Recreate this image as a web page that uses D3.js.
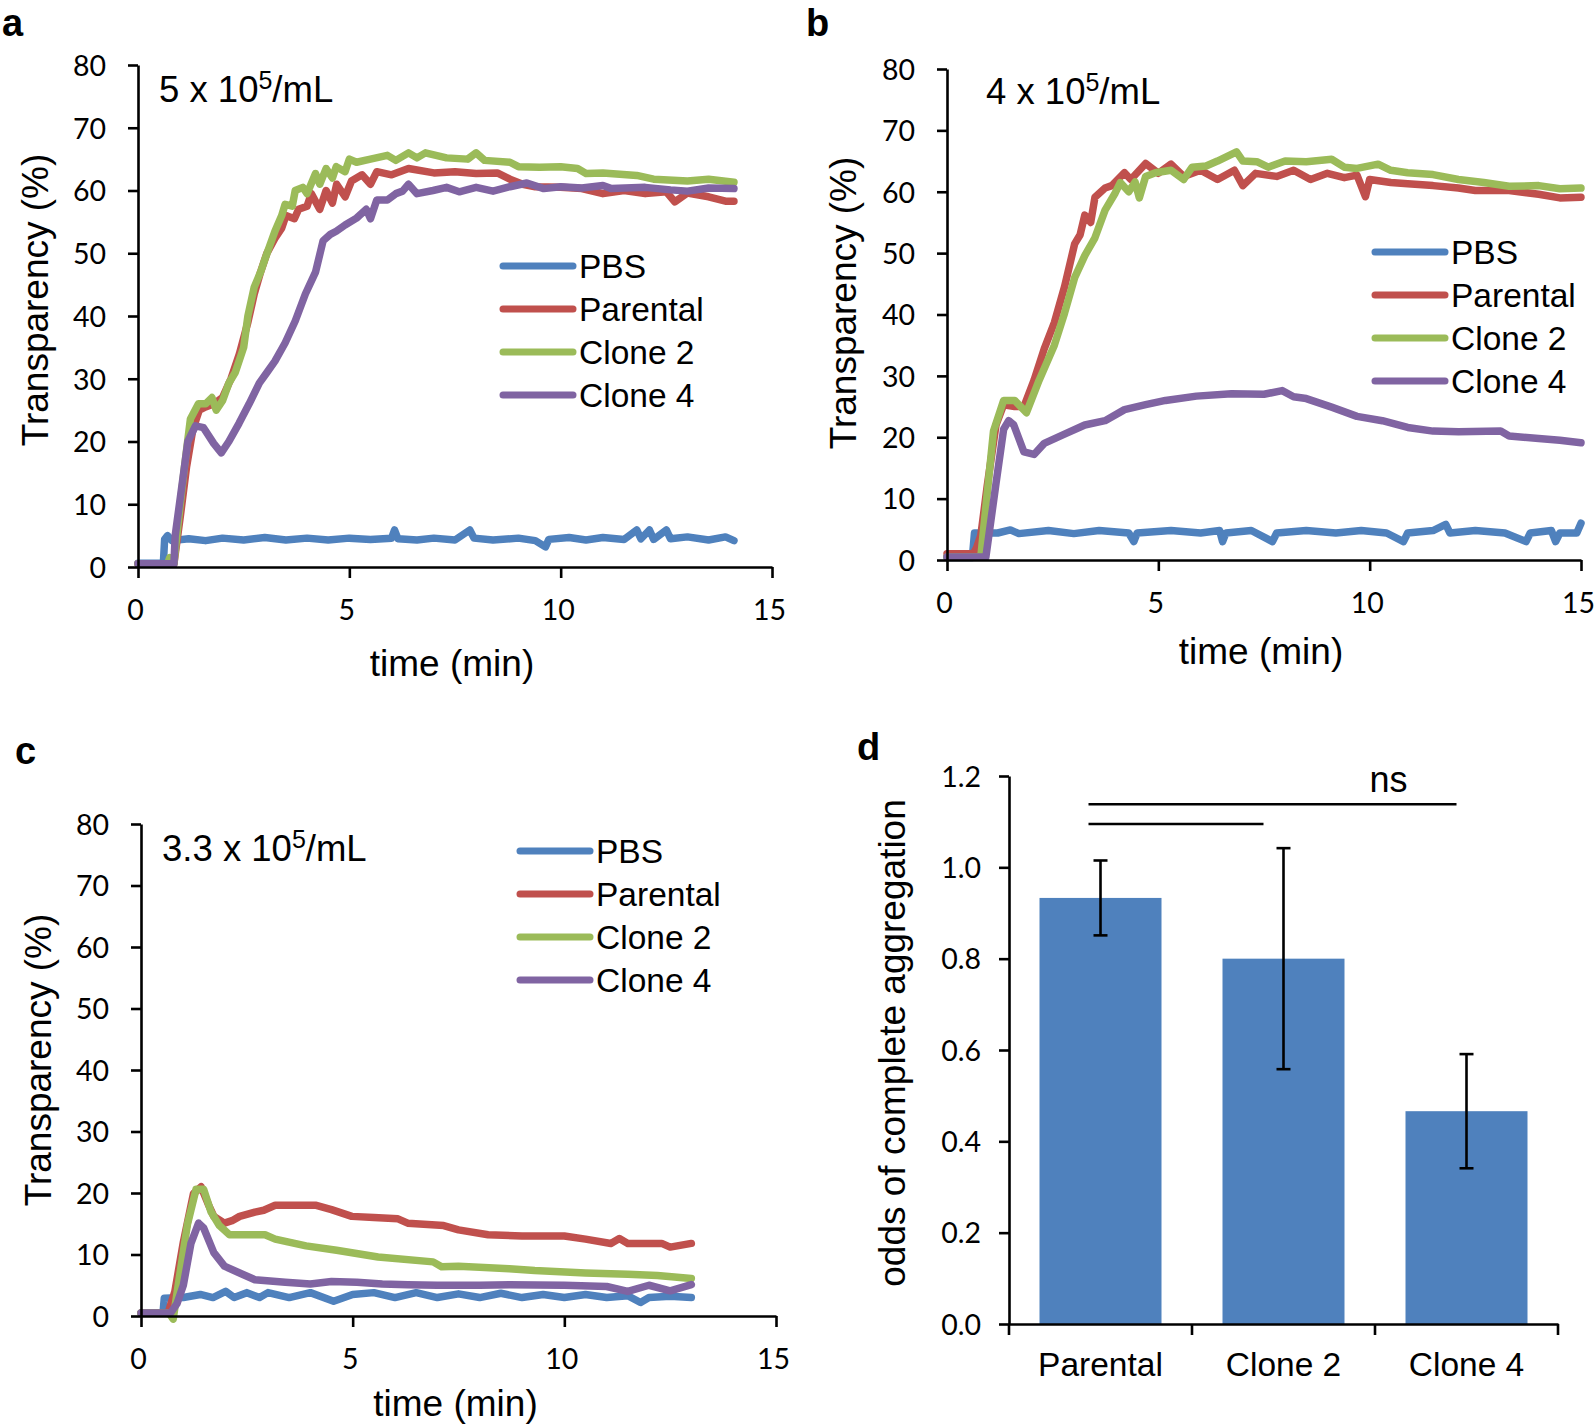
<!DOCTYPE html>
<html>
<head>
<meta charset="utf-8">
<script src="https://cdn.jsdelivr.net/npm/d3@7"></script>
<style>
  body { margin: 0; background: #fff; }
  text { fill: #000; }
</style>
</head>
<body>
<div class="canvas"></div>
<script>
const seriesNames = ["PBS", "Parental", "Clone 2", "Clone 4"];
const seriesColors = ["#4F81BD", "#C0504D", "#9BBB59", "#8064A2"];
const xTicks = [0, 5, 10, 15];
const yTicks = [0, 10, 20, 30, 40, 50, 60, 70, 80];

// panel a : 5 x 10^5/mL
const aPBS = [[0,0.6],[0.6,0.6],[0.63,4.4],[0.7,5],[0.8,4.2],[1.2,4.5],[1.6,4.2],[2,4.6],[2.5,4.3],[3,4.7],[3.5,4.3],[4,4.6],[4.5,4.3],[5,4.6],[5.5,4.4],[6,4.6],[6.07,5.9],[6.15,4.5],[6.6,4.3],[7,4.6],[7.5,4.3],[7.85,5.9],[7.95,4.6],[8.4,4.3],[9,4.6],[9.4,4.2],[9.64,3.2],[9.72,4.4],[10.2,4.7],[10.6,4.3],[11,4.7],[11.5,4.4],[11.8,5.9],[11.9,4.5],[12.1,5.9],[12.2,4.4],[12.5,5.9],[12.6,4.5],[13,4.8],[13.5,4.3],[13.9,4.8],[14.1,4.2]];
const aParental = [[0,0.5],[0.85,0.5],[1.0,8],[1.15,16],[1.3,22],[1.45,25],[1.6,25.5],[1.8,26],[2.0,27],[2.2,30],[2.4,34],[2.6,39],[2.75,43.5],[2.9,47],[3.05,50],[3.25,52.5],[3.4,54],[3.5,56],[3.7,55.5],[3.8,57],[4.0,57.5],[4.1,59.5],[4.3,57],[4.45,60],[4.6,58],[4.7,61],[4.9,59],[5.05,61.5],[5.3,62.5],[5.5,61],[5.65,63],[6,62.5],[6.4,63.5],[7,62.8],[7.5,63],[8,62.7],[8.5,62.8],[8.8,61.8],[9.1,61],[9.4,60.6],[10,60.5],[10.5,60.3],[11,59.5],[11.5,60],[12,59.5],[12.5,59.8],[12.7,58.2],[13,59.6],[13.5,59],[13.9,58.3],[14.1,58.3]];
const aClone2 = [[0,0.5],[0.7,0.5],[0.75,1.5],[0.85,0.5],[0.95,7],[1.1,16],[1.24,23.6],[1.43,26],[1.6,26],[1.75,27],[1.85,25],[2.0,26.5],[2.15,29.3],[2.3,31],[2.5,35],[2.6,40],[2.75,44.6],[2.9,47],[3.0,49],[3.24,53.5],[3.4,56],[3.48,57.8],[3.65,57.5],[3.72,60],[3.9,60.5],[4.0,59.5],[4.2,62.7],[4.3,61],[4.45,63.5],[4.6,62],[4.69,63.8],[4.9,63],[5.0,65],[5.17,64.5],[5.5,65],[5.9,65.6],[6.1,64.8],[6.4,66],[6.6,65.2],[6.8,66],[7.3,65.2],[7.8,65],[8.0,66],[8.2,64.8],[8.8,64.5],[9.0,63.8],[9.5,63.7],[10.0,63.8],[10.4,63.5],[10.6,62.7],[11.0,62.8],[11.8,62.4],[12.2,61.8],[13,61.5],[13.5,61.8],[14.1,61.3]];
const aClone4 = [[0,0.5],[0.85,0.5],[0.88,5],[1.0,11],[1.18,20],[1.36,22.5],[1.55,22.2],[1.79,19.7],[1.97,18.2],[2.15,20],[2.39,22.9],[2.63,26],[2.87,29.3],[3.05,31],[3.24,32.8],[3.48,35.7],[3.72,39.2],[3.96,43.5],[4.2,47],[4.38,52],[4.55,53],[4.69,53.5],[4.9,54.5],[5.17,55.6],[5.4,57],[5.5,55.5],[5.65,58.5],[5.9,58.5],[6.1,59.5],[6.26,59.9],[6.4,61],[6.6,59.5],[6.98,60],[7.3,60.5],[7.6,59.8],[8,60.5],[8.4,59.9],[8.8,60.6],[9.2,61.2],[9.6,60.3],[10,60.6],[10.5,60.4],[11,60.8],[11.2,60.3],[12,60.5],[12.6,60.1],[13,59.9],[13.5,60.4],[14.1,60.3]];

// panel b : 4 x 10^5/mL
const bPBS = [[0,0.4],[0.6,0.4],[0.65,4.4],[1.2,4.4],[1.5,4.9],[1.7,4.3],[2.4,4.8],[3,4.3],[3.6,4.8],[4.3,4.4],[4.42,3.0],[4.5,4.4],[5.3,4.8],[6,4.4],[6.45,4.8],[6.52,3.0],[6.6,4.4],[7.2,4.8],[7.7,3.0],[7.8,4.4],[8.5,4.8],[9.2,4.4],[9.8,4.8],[10.4,4.4],[10.8,3.0],[10.9,4.4],[11.5,4.8],[11.8,5.8],[11.9,4.4],[12.5,4.8],[13.2,4.4],[13.7,3.0],[13.8,4.4],[14.3,4.8],[14.4,3.0],[14.5,4.4],[14.9,4.4],[15,6]];
const bParental = [[0,1],[0.62,1],[0.7,2],[0.8,4],[0.95,12],[1.16,22],[1.34,25.3],[1.6,25],[1.82,25],[2.06,29.3],[2.3,34.4],[2.54,38.7],[2.78,44.5],[3.02,51.5],[3.15,53],[3.26,56.2],[3.4,55],[3.5,59.1],[3.74,60.6],[3.9,61],[4.2,63.1],[4.35,62],[4.7,64.6],[5.0,63],[5.3,64.5],[5.6,62.5],[6,63.5],[6.4,62],[6.8,63.5],[7.0,61],[7.3,63],[7.8,62.5],[8.2,63.5],[8.6,62],[9.0,63],[9.4,62.3],[9.7,62.7],[9.9,59.2],[10.0,62],[10.5,61.5],[10.9,61.3],[11.5,61],[12.1,60.6],[12.5,60.2],[13.3,60.2],[14,59.6],[14.5,59],[15,59.1]];
const bClone2 = [[0,0.5],[0.8,0.5],[1.1,21],[1.34,26],[1.6,26],[1.88,24],[2.18,29.3],[2.54,35],[2.78,40.2],[3.02,46],[3.26,49.6],[3.5,52.5],[3.74,57],[3.98,59.8],[4.1,61.5],[4.3,60],[4.45,61.6],[4.55,59],[4.7,62.5],[4.93,63.1],[5.3,63.5],[5.6,62],[5.8,64],[6.13,64.2],[6.4,65],[6.85,66.5],[7.0,65],[7.33,64.9],[7.6,64],[8,65],[8.5,64.9],[9.1,65.3],[9.4,64],[9.7,63.8],[10.2,64.5],[10.5,63.5],[10.9,63.1],[11.5,62.8],[12.1,62],[12.7,61.5],[13.3,60.9],[14,61],[14.5,60.5],[15,60.6]];
const bClone4 = [[0,0.5],[0.92,0.5],[1.16,12.5],[1.34,21.3],[1.46,22.7],[1.58,22],[1.82,17.6],[2.06,17.2],[2.3,19],[2.78,20.5],[3.26,22],[3.74,22.7],[4.2,24.5],[4.7,25.3],[5.17,26],[5.9,26.7],[6.73,27.1],[7.5,27],[7.93,27.6],[8.2,26.6],[8.5,26.3],[9.1,24.9],[9.7,23.4],[10.3,22.7],[10.9,21.6],[11.5,21],[12.1,20.9],[13.1,21],[13.3,20.2],[14,19.8],[14.5,19.5],[15,19.1]];

// panel c : 3.3 x 10^5/mL
const cPBS = [[0,0.5],[0.52,0.5],[0.55,2.9],[1.0,3],[1.4,3.5],[1.7,3],[2.0,4],[2.2,3],[2.5,3.8],[2.8,3],[3.0,3.8],[3.5,3],[4.0,3.8],[4.55,2.4],[4.8,3],[5.0,3.5],[5.5,3.8],[6.0,3],[6.5,3.8],[7.0,3],[7.5,3.6],[8,3],[8.5,3.7],[9,3],[9.5,3.5],[10,3],[10.5,3.5],[11,3],[11.5,3.3],[11.8,2.2],[12,3],[12.5,3.2],[13,3]];
const cParental = [[0,0.5],[0.64,0.5],[0.8,4],[1.0,12],[1.24,19.9],[1.42,21],[1.6,18],[1.72,16.2],[1.97,15.1],[2.15,15.5],[2.33,16.2],[2.69,16.9],[2.9,17.2],[3.17,18],[3.5,18],[4.14,18],[4.5,17.3],[4.98,16.2],[5.5,16],[6.07,15.8],[6.3,15.1],[7.15,14.7],[7.5,14],[8.2,13.2],[9,13],[10,13],[10.5,12.5],[11.1,11.8],[11.3,12.6],[11.5,11.8],[12.3,11.8],[12.5,11.2],[13,11.8]];
const cClone2 = [[0,0.5],[0.66,0.5],[0.76,-0.5],[0.9,6],[1.1,15],[1.3,20.6],[1.48,20.6],[1.65,17],[1.85,14.7],[2.09,13.2],[2.93,13.2],[3.17,12.5],[3.9,11.4],[4.62,10.7],[5.6,9.6],[6.9,8.8],[7.1,8],[7.5,8.1],[8.7,7.7],[9.3,7.4],[10.5,7],[11.5,6.8],[12.2,6.6],[13,6.1]];
const cClone4 = [[0,0.5],[0.7,0.5],[0.85,2],[1.0,5],[1.18,11.8],[1.36,15.1],[1.48,14.3],[1.72,10.3],[1.97,8.1],[2.33,7],[2.69,5.9],[3.41,5.5],[4,5.2],[4.5,5.6],[5.1,5.5],[5.7,5.2],[6.3,5.1],[7,5],[8,5],[8.7,5.1],[10,5],[11,4.8],[11.5,4],[12,5],[12.5,4.1],[13,5.1]];

// panel d
const barCategories = ["Parental", "Clone 2", "Clone 4"];
const barValues = [0.933, 0.80, 0.466];
const barErrors = [0.082, 0.242, 0.125];
const barTicks = [0, 0.2, 0.4, 0.6, 0.8, 1.0, 1.2];
const sigPairs = [["Parental", "Clone 4", 1.138], ["Parental", "Clone 2", 1.095]];

const svg = d3.select('.canvas')
  .append('svg')
  .attr('width', 1594)
  .attr('height', 1428)
  .style('background', '#fff')
  .style('display', 'block');

const sans = '"Liberation Sans", Arial, sans-serif';
const tickFont = 'Lato, "Open Sans", sans-serif';

const styleAxis = (g) => {
  g.selectAll('path, line').attr('stroke', '#000').attr('stroke-width', 2.6);
  g.selectAll('text').attr('font-family', tickFont).attr('font-size', 28.5).attr('fill', '#000');
};

const drawLinePanel = (p) => {
  const x = d3.scaleLinear().domain([0, 15]).range([p.x0, p.x1]);
  const y = d3.scaleLinear().domain([0, 80]).range([p.y0, p.y1]);
  const g = svg.append('g');

  const line = d3.line()
    .x(d => x(d[0]))
    .y(d => y(d[1]));

  p.series.forEach((s, i) => {
    g.append('path')
      .datum(s)
      .attr('d', line)
      .attr('fill', 'none')
      .attr('stroke', seriesColors[i])
      .attr('stroke-width', 7.5)
      .attr('stroke-linejoin', 'round')
      .attr('stroke-linecap', 'round');
  });

  const yAxis = g.append('g')
    .attr('transform', `translate(${p.x0},0)`)
    .call(d3.axisLeft(y).tickValues(yTicks).tickSize(10).tickSizeOuter(0).tickPadding(22));
  styleAxis(yAxis);
  yAxis.selectAll('text').attr('dy', '0.36em');

  const xAxis = g.append('g')
    .attr('transform', `translate(0,${p.y0})`)
    .call(d3.axisBottom(x).tickValues(xTicks).tickSize(11).tickSizeOuter(0).tickPadding(22));
  styleAxis(xAxis);
  xAxis.selectAll('text').attr('dx', -3);

  // legend
  seriesNames.forEach((name, i) => {
    const ly = p.legY + i * 43;
    g.append('line')
      .attr('x1', p.legX).attr('x2', p.legX + 70)
      .attr('y1', ly).attr('y2', ly)
      .attr('stroke', seriesColors[i])
      .attr('stroke-width', 7)
      .attr('stroke-linecap', 'round');
    g.append('text')
      .attr('x', p.legX + 76).attr('y', ly + 12)
      .attr('font-family', sans).attr('font-size', 33.5)
      .text(name);
  });

  // concentration label
  const lab = g.append('text')
    .attr('x', p.annX).attr('y', p.annY)
    .attr('font-family', sans).attr('font-size', 36.5);
  lab.append('tspan').text(p.ann + ' x 10');
  lab.append('tspan').attr('font-size', 25).attr('dy', -13).text('5');
  lab.append('tspan').attr('dy', 13).text('/mL');

  g.append('text')
    .attr('transform', `translate(${p.yTitleX},${p.yTitleY}) rotate(-90)`)
    .attr('text-anchor', 'middle')
    .attr('font-family', sans).attr('font-size', 37)
    .text('Transparency (%)');

  g.append('text')
    .attr('x', (p.x0 + p.x1) / 2 - 3).attr('y', p.xTitleY)
    .attr('text-anchor', 'middle')
    .attr('font-family', sans).attr('font-size', 37)
    .text('time (min)');

  svg.append('text')
    .attr('x', p.letterX).attr('y', p.letterY)
    .attr('font-family', sans).attr('font-size', 38).attr('font-weight', 'bold')
    .text(p.letter);
};

drawLinePanel({
  letter: 'a', letterX: 2, letterY: 36,
  x0: 138, x1: 772, y0: 567, y1: 65,
  series: [aPBS, aParental, aClone2, aClone4],
  legX: 503, legY: 266,
  ann: '5', annX: 159, annY: 102,
  yTitleX: 48, yTitleY: 300, xTitleY: 676
});

drawLinePanel({
  letter: 'b', letterX: 806, letterY: 36,
  x0: 947, x1: 1581, y0: 560, y1: 69,
  series: [bPBS, bParental, bClone2, bClone4],
  legX: 1375, legY: 252,
  ann: '4', annX: 986, annY: 104,
  yTitleX: 856, yTitleY: 303, xTitleY: 664
});

drawLinePanel({
  letter: 'c', letterX: 15, letterY: 764,
  x0: 141, x1: 776, y0: 1316, y1: 824,
  series: [cPBS, cParental, cClone2, cClone4],
  legX: 520, legY: 851,
  ann: '3.3', annX: 162, annY: 861,
  yTitleX: 51, yTitleY: 1060, xTitleY: 1416
});

// panel d : bar chart
const dx0 = 1009, dx1 = 1558, dy0 = 1324, dy1 = 776;
const xb = d3.scaleBand().domain(barCategories).range([dx0, dx1]).paddingInner(1 / 3).paddingOuter(1 / 6);
const xBand = d3.scaleBand().domain(barCategories).range([dx0, dx1]);
const yb = d3.scaleLinear().domain([0, 1.2]).range([dy0, dy1]);
const gd = svg.append('g');

gd.selectAll('rect.bar')
  .data(barValues)
  .join('rect')
  .attr('class', 'bar')
  .attr('x', (d, i) => xb(barCategories[i]))
  .attr('width', xb.bandwidth())
  .attr('y', d => yb(d))
  .attr('height', d => dy0 - yb(d))
  .attr('fill', '#4F81BD');

const cx = (c) => xBand(c) + xBand.bandwidth() / 2;

barValues.forEach((v, i) => {
  const c = cx(barCategories[i]);
  const e = barErrors[i];
  gd.append('line')
    .attr('x1', c).attr('x2', c)
    .attr('y1', yb(v + e)).attr('y2', yb(v - e))
    .attr('stroke', '#000').attr('stroke-width', 2.6);
  [v + e, v - e].forEach(w => {
    gd.append('line')
      .attr('x1', c - 7).attr('x2', c + 7)
      .attr('y1', yb(w)).attr('y2', yb(w))
      .attr('stroke', '#000').attr('stroke-width', 2.6);
  });
});

const yAxisD = gd.append('g')
  .attr('transform', `translate(${dx0},0)`)
  .call(d3.axisLeft(yb).tickValues(barTicks).tickFormat(d3.format('.1f')).tickSize(10).tickSizeOuter(0).tickPadding(18));
styleAxis(yAxisD);
yAxisD.selectAll('text').attr('dy', '0.36em');

const xAxisD = gd.append('g')
  .attr('transform', `translate(0,${dy0})`)
  .call(d3.axisBottom(xBand).tickSize(0).tickSizeOuter(0).tickPadding(22));
styleAxis(xAxisD);
xAxisD.selectAll('text').attr('font-family', sans).attr('font-size', 33.5).attr('dy', '0.9em');

// category separators on x axis
gd.selectAll('line.sep')
  .data(barCategories.concat(['end']))
  .join('line')
  .attr('class', 'sep')
  .attr('x1', (d, i) => dx0 + i * xBand.bandwidth())
  .attr('x2', (d, i) => dx0 + i * xBand.bandwidth())
  .attr('y1', dy0).attr('y2', dy0 + 11)
  .attr('stroke', '#000').attr('stroke-width', 2.6);

sigPairs.forEach(([from, to, v]) => {
  gd.append('line')
    .attr('x1', cx(from) - 12)
    .attr('x2', to === 'Clone 4' ? cx(to) - 10 : cx(to) - 20)
    .attr('y1', yb(v)).attr('y2', yb(v))
    .attr('stroke', '#000').attr('stroke-width', 2.6);
});

gd.append('text')
  .attr('x', cx('Clone 4') - 78).attr('y', 792)
  .attr('text-anchor', 'middle')
  .attr('font-family', sans).attr('font-size', 36)
  .text('ns');

gd.append('text')
  .attr('transform', `translate(${905},${1043}) rotate(-90)`)
  .attr('text-anchor', 'middle')
  .attr('font-family', sans).attr('font-size', 37)
  .text('odds of complete aggregation');

svg.append('text')
  .attr('x', 857).attr('y', 760)
  .attr('font-family', sans).attr('font-size', 38).attr('font-weight', 'bold')
  .text('d');
</script>
</body>
</html>
